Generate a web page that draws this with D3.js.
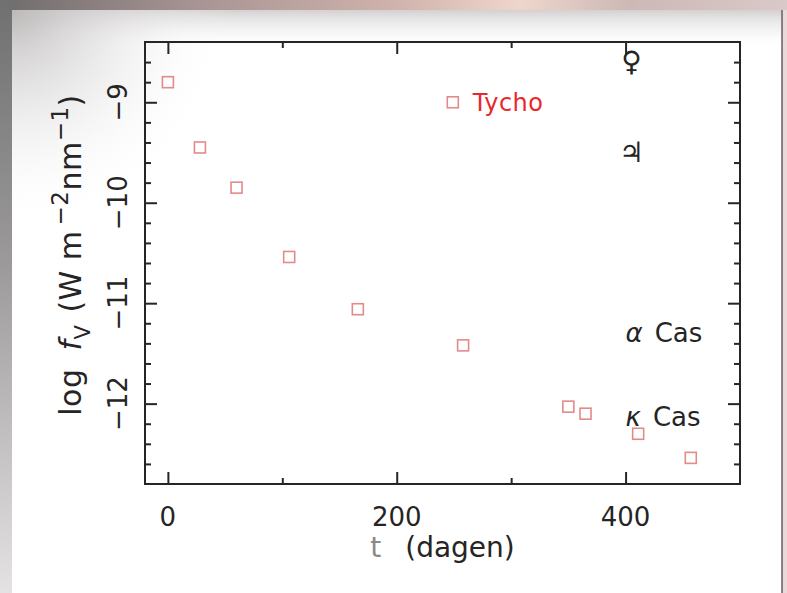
<!DOCTYPE html>
<html>
<head>
<meta charset="utf-8">
<script src="https://cdn.jsdelivr.net/npm/d3@7"></script>
<style>
  html, body { margin: 0; padding: 0; background: #fff; }
  svg { display: block; }
  text { font-family: "DejaVu Sans", "Liberation Sans", sans-serif; }
</style>
</head>
<body>
<svg id="chart" width="787" height="593"></svg>
<script>
// Light-curve measurements: days since maximum and log flux
const days    = [0, 28, 60, 106, 166, 258, 350, 365, 411, 457];
const logFlux = [-8.8, -9.45, -9.85, -10.54, -11.06, -11.42, -12.03, -12.10, -12.30, -12.54];

// Single marker used as the series key
const keyDay = 249;
const keyFlux = -9.0;
const keyLabel = "Tycho";

// Comparison objects drawn at the right-hand side
const refLabels = ["♀", "♃", "α Cas", "κ Cas"];
const refValues = [-8.6, -9.5, -11.3, -12.13];
const refDay = 400;

// Axis ticks
const xMajor = [0, 200, 400];
const xMinor = [100, 300];
const xTickLabels = ["0", "200", "400"];
const yMajor = [-9, -10, -11, -12];
const yTickLabels = ["−9", "−10", "−11", "−12"];

const W = 787, H = 593;
const svg = d3.select("#chart");
const defs = svg.append("defs");

// ---- page backdrop ----
const topGrad = defs.append("linearGradient").attr("id", "topBand")
  .attr("x1", 0).attr("x2", 1).attr("y1", 0).attr("y2", 0);
[[0, "#6f6c6c"], [0.25, "#a89494"], [0.5, "#cfb2ab"], [0.66, "#efd6cc"], [0.8, "#cdb8b6"], [1, "#d9c9c8"]]
  .forEach(([o, c]) => topGrad.append("stop").attr("offset", o).attr("stop-color", c));
const leftGrad = defs.append("linearGradient").attr("id", "leftBand")
  .attr("x1", 0).attr("x2", 0).attr("y1", 0).attr("y2", 1);
[[0, "#707070"], [0.45, "#9c9a9a"], [1, "#e4e2e2"]]
  .forEach(([o, c]) => leftGrad.append("stop").attr("offset", o).attr("stop-color", c));
const haze = defs.append("radialGradient").attr("id", "haze")
  .attr("cx", 0).attr("cy", 0).attr("r", 0.55);
[[0, "#b9b6b6", 0.9], [0.5, "#dcdada", 0.45], [1, "#ffffff", 0]]
  .forEach(([o, c, a]) => haze.append("stop").attr("offset", o).attr("stop-color", c).attr("stop-opacity", a));
const topHaze = defs.append("linearGradient").attr("id", "topHaze")
  .attr("x1", 0).attr("x2", 0).attr("y1", 0).attr("y2", 1);
[[0, "#c9c5c5", 0.8], [1, "#ffffff", 0]]
  .forEach(([o, c, a]) => topHaze.append("stop").attr("offset", o).attr("stop-color", c).attr("stop-opacity", a));

svg.append("rect").attr("width", W).attr("height", H).attr("fill", "url(#topBand)");
svg.append("rect").attr("x", 0).attr("y", 0).attr("width", 12).attr("height", H).attr("fill", "url(#leftBand)");
svg.append("rect").attr("x", 783).attr("y", 10).attr("width", 4).attr("height", H - 10).attr("fill", "#ead9d8");
svg.append("rect").attr("x", 12).attr("y", 10).attr("width", 770).attr("height", H - 10).attr("fill", "#ffffff");
svg.append("rect").attr("x", 12).attr("y", 10).attr("width", 770).attr("height", 40).attr("fill", "url(#topHaze)");
svg.append("rect").attr("x", 12).attr("y", 10).attr("width", 400).attr("height", 400).attr("fill", "url(#haze)");
svg.append("line").attr("x1", 782).attr("x2", 782).attr("y1", 10).attr("y2", H)
  .attr("stroke", "#6a6262").attr("stroke-width", 1.5);

// ---- scales ----
const x = d3.scaleLinear().domain([-20, 500]).range([145, 740]);
const y = d3.scaleLinear().domain([-12.8, -8.4]).range([484, 42]);
const [x0, x1] = x.range();
const [y0, y1] = y.range();
const ink = "#262424";

// ---- ticks (all pointing inward on every side) ----
const yMinor = d3.range(-12.6, -8.41, 0.2).filter(v => Math.abs(v - Math.round(v)) > 1e-6);

function styleAxis(g) {
  g.select(".domain").remove();
  g.selectAll(".tick line").attr("stroke", ink).attr("stroke-width", 2);
  g.selectAll(".tick text").remove();
}
svg.append("g").attr("transform", `translate(0,${y0})`)
  .call(d3.axisBottom(x).tickValues(xMajor).tickSize(-12)).call(styleAxis);
svg.append("g").attr("transform", `translate(0,${y0})`)
  .call(d3.axisBottom(x).tickValues(xMinor).tickSize(-6)).call(styleAxis);
svg.append("g").attr("transform", `translate(0,${y1})`)
  .call(d3.axisTop(x).tickValues(xMajor).tickSize(-12)).call(styleAxis);
svg.append("g").attr("transform", `translate(0,${y1})`)
  .call(d3.axisTop(x).tickValues(xMinor).tickSize(-6)).call(styleAxis);
svg.append("g").attr("transform", `translate(${x0},0)`)
  .call(d3.axisLeft(y).tickValues(yMajor).tickSize(-12)).call(styleAxis);
svg.append("g").attr("transform", `translate(${x0},0)`)
  .call(d3.axisLeft(y).tickValues(yMinor).tickSize(-6)).call(styleAxis);
svg.append("g").attr("transform", `translate(${x1},0)`)
  .call(d3.axisRight(y).tickValues(yMajor).tickSize(-12)).call(styleAxis);
svg.append("g").attr("transform", `translate(${x1},0)`)
  .call(d3.axisRight(y).tickValues(yMinor).tickSize(-6)).call(styleAxis);

// frame
svg.append("rect").attr("x", x0).attr("y", y1).attr("width", x1 - x0).attr("height", y0 - y1)
  .attr("fill", "none").attr("stroke", ink).attr("stroke-width", 2);

// ---- tick labels ----
svg.append("g").selectAll("text").data(xMajor).join("text")
  .attr("x", d => x(d)).attr("y", 526)
  .attr("text-anchor", "middle").attr("font-size", 26).attr("fill", ink)
  .text((d, i) => xTickLabels[i]);

svg.append("g").selectAll("text").data(yMajor).join("text")
  .attr("transform", d => `translate(127,${y(d)}) rotate(-90)`)
  .attr("text-anchor", "middle").attr("font-size", 26).attr("fill", ink)
  .text((d, i) => yTickLabels[i]);

// ---- axis titles ----
const xt = svg.append("text").attr("x", (x0 + x1) / 2).attr("y", 557)
  .attr("text-anchor", "middle").attr("font-size", 28).attr("fill", ink);
xt.append("tspan").attr("fill", "#8a8888").text("t");
xt.append("tspan").attr("dx", 24).text("(dagen)");

const yt = svg.append("text")
  .attr("transform", "translate(81,255) rotate(-90)")
  .attr("text-anchor", "middle").attr("font-size", 30).attr("fill", ink)
  .attr("letter-spacing", 0.5);
yt.append("tspan").text("log ");
yt.append("tspan").attr("font-style", "italic").attr("dx", 8).text("f");
yt.append("tspan").attr("font-size", 21).attr("dy", 9).text("V");
yt.append("tspan").attr("dy", -9).attr("dx", 12).text("(W m");
yt.append("tspan").attr("font-size", 23).attr("dy", -13).attr("dx", 5).text("−2");
yt.append("tspan").attr("dy", 13).text("nm");
yt.append("tspan").attr("font-size", 23).attr("dy", -13).text("−1");
yt.append("tspan").attr("dy", 13).text(")");

// ---- data markers ----
const side = 11;
svg.append("g").selectAll("rect").data(days).join("rect")
  .attr("x", d => x(d) - side / 2)
  .attr("y", (d, i) => y(logFlux[i]) - side / 2)
  .attr("width", side).attr("height", side)
  .attr("fill", "none").attr("stroke", "#e38a8a").attr("stroke-width", 1.6);

// key marker with label
svg.append("rect")
  .attr("x", x(keyDay) - side / 2).attr("y", y(keyFlux) - side / 2)
  .attr("width", side).attr("height", side)
  .attr("fill", "none").attr("stroke", "#e38a8a").attr("stroke-width", 1.6);
svg.append("text").attr("x", x(keyDay) + 20).attr("y", y(keyFlux) + 9)
  .attr("font-size", 24).attr("letter-spacing", 0.5).attr("fill", "#e8282c").text(keyLabel);

// ---- comparison objects ----
const refs = svg.append("g");
refLabels.forEach((lab, i) => {
  const t = refs.append("text").attr("x", x(refDay)).attr("y", y(refValues[i]) + 9)
    .attr("fill", ink).attr("font-size", 26);
  if (lab.length === 1) {
    t.attr("x", x(refDay) + 6).attr("text-anchor", "middle")
      .attr("font-family", "DejaVu Serif, DejaVu Sans, serif")
      .attr("font-weight", "bold").attr("font-size", 28).text(lab);
  } else {
    const [g, rest] = lab.split(" ");
    t.append("tspan").attr("font-style", "italic").text(g);
    t.append("tspan").attr("dx", 12).text(rest);
  }
});
</script>
</body>
</html>
